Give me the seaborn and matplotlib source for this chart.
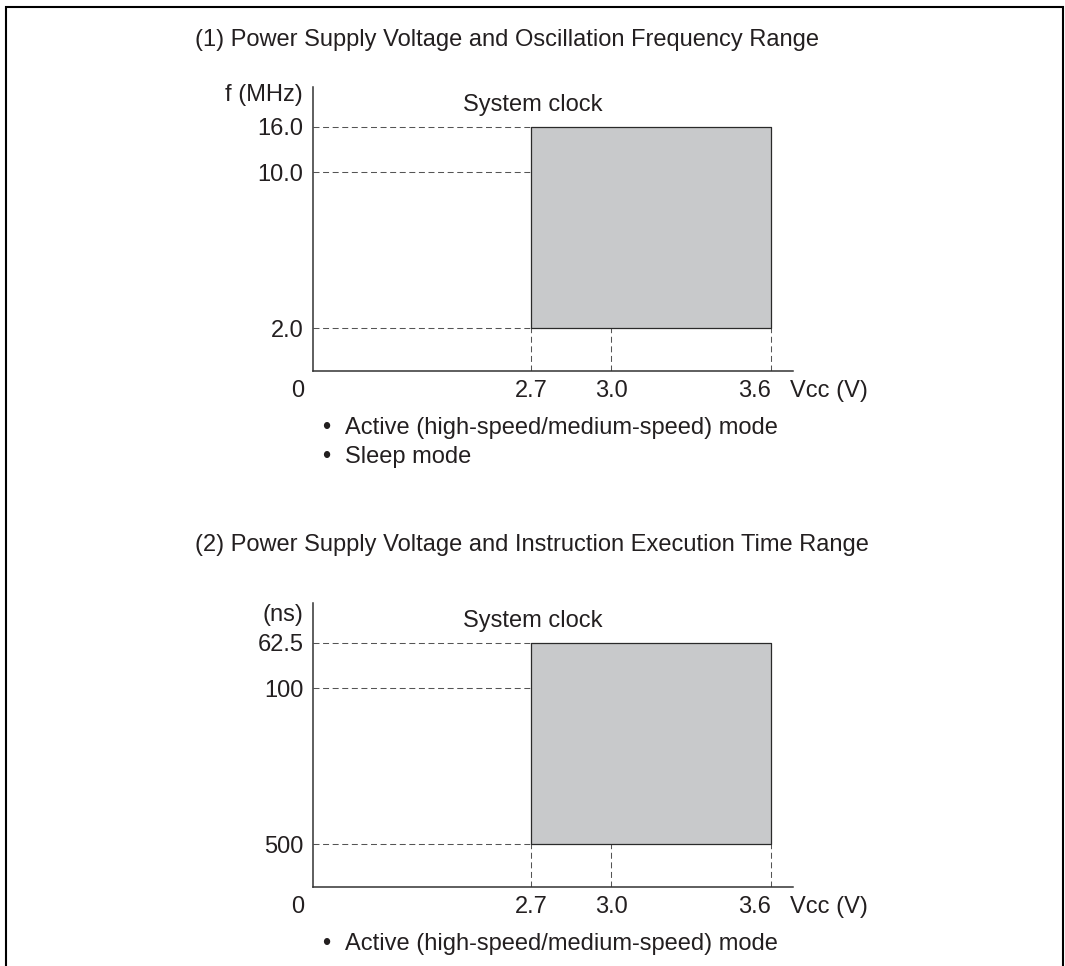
import numpy as np
import pandas as pd
import matplotlib
matplotlib.use("Agg")
import matplotlib.pyplot as plt
import seaborn as sns
from matplotlib.ticker import NullLocator, NullFormatter
from matplotlib.lines import Line2D

# ---------------- data ----------------
vcc_ticks = [2.7, 3.0, 3.6]
vcc_tick_labels = ["2.7", "3.0", "3.6"]
vcc_range = [2.7, 3.6]

freq_ticks = [2.0, 10.0, 16.0]
freq_tick_labels = ["2.0", "10.0", "16.0"]
freq_range = [2.0, 16.0]          # [bottom, top] of the operating box

time_ticks = [62.5, 100.0, 500.0]
time_tick_labels = ["62.5", "100", "500"]
time_range = [500.0, 62.5]        # [bottom, top] of the operating box

titles = ["(1) Power Supply Voltage and Oscillation Frequency Range",
          "(2) Power Supply Voltage and Instruction Execution Time Range"]
y_units = ["f (MHz)", "(ns)"]
box_label = "System clock"
x_unit = "Vcc (V)"
origin_label = "0"
modes_1 = ["Active (high-speed/medium-speed) mode", "Sleep mode"]
modes_2 = ["Active (high-speed/medium-speed) mode"]

# ---------------- style ----------------
sns.set_theme(style="white")
plt.rcParams["font.family"] = ["Liberation Sans", "DejaVu Sans"]
plt.rcParams["lines.scale_dashes"] = False
FS = 17
TXT = "#231f20"
FILL = "#c8c9cb"
EDGE = "#2a2a2a"
GUIDE = "#555555"

W, H = 1065, 966
fig = plt.figure(figsize=(W / 100, H / 100), dpi=100)
fig.patch.set_facecolor("white")

def fx(px):
    return px / W

def fy(py):
    return 1 - py / H

# layout (pixels)
ax_left, ax_right = 313.3, 793.0
panel_tops = [87.3, 603.3]
panel_bottoms = [371.0, 886.7]
title_baselines = [46.0, 551.0]
unit_baseline_off = [13.7, 17.7]
px_per_volt = 240 / 0.9
x_at_27 = 531.0
xmin = 2.7 - (x_at_27 - ax_left) / px_per_volt
xmax = 2.7 + (ax_right - x_at_27) / px_per_volt
bot_margin_dec = 0.1913
top_margin_dec = 0.1765

panels = [
    (freq_ticks, freq_tick_labels, freq_range, modes_1),
    (time_ticks, time_tick_labels, time_range, modes_2),
]

for i, (yt, ytl, yr, modes) in enumerate(panels):
    top, bottom = panel_tops[i], panel_bottoms[i]
    ax = fig.add_axes([fx(ax_left), fy(bottom), (ax_right - ax_left) / W, (bottom - top) / H])
    ax.set_facecolor("white")
    ax.set_yscale("log")
    lb, lt = np.log10(yr[0]), np.log10(yr[1])
    s = np.sign(lt - lb)
    y_lo = 10 ** (lb - s * bot_margin_dec)
    y_hi = 10 ** (lt + s * top_margin_dec)
    ax.set_xlim(xmin, xmax)
    ax.set_ylim(y_lo, y_hi)

    # dashed guide lines
    rows = []
    seg = 0
    for v in yt:
        rows += [(seg, xmin, v), (seg, vcc_range[0], v)]
        seg += 1
    for v in vcc_ticks:
        rows += [(seg, v, y_lo), (seg, v, yr[0])]
        seg += 1
    guides = pd.DataFrame(rows, columns=["seg", "x", "y"])
    sns.lineplot(data=guides, x="x", y="y", units="seg", estimator=None, sort=False,
                 color=GUIDE, linewidth=0.75, linestyle=(0, (4.3, 2.6)),
                 legend=False, ax=ax, zorder=2)

    # operating range box
    ax.fill_between(vcc_range, yr[0], yr[1], facecolor=FILL, edgecolor=EDGE,
                    linewidth=0.9, zorder=3)

    # ticks
    ax.set_xticks(vcc_ticks, vcc_tick_labels)
    ax.set_yticks(yt, ytl)
    ax.yaxis.set_minor_locator(NullLocator())
    ax.yaxis.set_minor_formatter(NullFormatter())
    ax.xaxis.set_minor_locator(NullLocator())
    ax.tick_params(axis="x", length=0, pad=6.5, labelsize=FS, labelcolor=TXT)
    ax.tick_params(axis="y", length=0, pad=7.2, labelsize=FS, labelcolor=TXT)
    ax.get_xticklabels()[-1].set_horizontalalignment("right")
    ax.set_xlabel("")
    ax.set_ylabel("")

    sns.despine(ax=ax)
    for sp in ("left", "bottom"):
        ax.spines[sp].set_color("#333333")
        ax.spines[sp].set_linewidth(1.1)
    ax.grid(False)

    # labels
    ax.annotate(origin_label, xy=(0, 0), xycoords="axes fraction",
                xytext=(297.5 - ax_left, -26), textcoords="offset pixels",
                ha="center", va="baseline", fontsize=FS, color=TXT)
    ax.annotate(x_unit, xy=(1, 0), xycoords="axes fraction",
                xytext=(-3, -26), textcoords="offset pixels",
                ha="left", va="baseline", fontsize=FS, color=TXT)
    ax.annotate(y_units[i], xy=(0, 1), xycoords="axes fraction",
                xytext=(-10.3, -unit_baseline_off[i]), textcoords="offset pixels",
                ha="right", va="baseline", fontsize=FS, color=TXT)
    ax.annotate(box_label, xy=(vcc_range[0], 1), xycoords=("data", "axes fraction"),
                xytext=(1.5, -23.7), textcoords="offset pixels",
                ha="center", va="baseline", fontsize=FS, color=TXT)
    for k, m in enumerate(modes):
        dy = -(63 + 29 * k)
        ax.annotate("\u2022", xy=(0, 0), xycoords="axes fraction",
                    xytext=(326 - ax_left, dy), textcoords="offset pixels",
                    ha="center", va="baseline", fontsize=FS, color=TXT)
        ax.annotate(m, xy=(0, 0), xycoords="axes fraction",
                    xytext=(345 - ax_left, dy), textcoords="offset pixels",
                    ha="left", va="baseline", fontsize=FS, color=TXT)

    fig.text(fx(195), fy(title_baselines[i]), titles[i], ha="left", va="baseline",
             fontsize=FS, color=TXT)

# outer frame (left, top, right)
fig.add_artist(Line2D([fx(6), fx(6), fx(1063), fx(1063)],
                      [0, fy(6.5), fy(6.5), 0], transform=fig.transFigure,
                      color="black", linewidth=1.5, solid_joinstyle="miter"))

fig.savefig("out.png", dpi=100)
